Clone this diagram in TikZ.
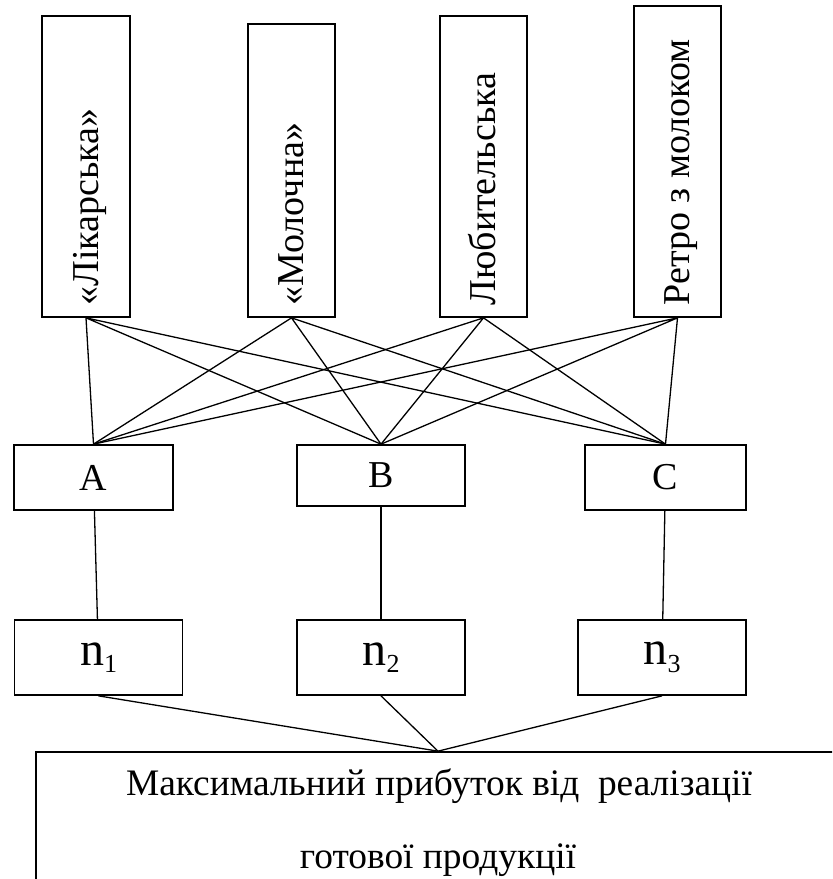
\documentclass[tikz,border=0pt]{standalone}
\usepackage{fontspec}
\setmainfont{Liberation Serif}
\newcommand{\lowidx}[1]{\raisebox{-3.8pt}{\fontsize{13}{13}\selectfont #1}}

\begin{document}
\begin{tikzpicture}[x=0.5pt, y=-0.5pt, font=\fontsize{19}{22}\selectfont]
\tikzstyle{brand} = [draw, rectangle, line width=0.85pt, minimum width=43.5pt]
\tikzstyle{brandname} = [rotate=90, anchor=base west, inner sep=0pt]
\tikzstyle{block} = [draw, rectangle, line width=0.85pt]
\tikzstyle{nblock} = [draw, rectangle, line width=0.85pt, minimum width=84pt, minimum height=37.5pt, font=\fontsize{24}{28}\selectfont]
\tikzstyle{textline} = [anchor=base, inner sep=0pt, font=\fontsize{18.7}{22}\selectfont]
\tikzstyle{link} = [line width=0.65pt]

\clip (0,0) rectangle (832,879);

    % sorts of product on top
    \node [brand, minimum width=44pt, minimum height=150.5pt] (lik) at (86,166.5) {};
    \node [brand, minimum height=146.5pt] (mol) at (291.5,170.5) {};
    \node [brand, minimum height=150.5pt] (lub) at (483.5,166.5) {};
    \node [brand, minimum height=155.5pt] (ret) at (677.5,161.5) {};
    \node [brandname] (liktext) at ([xshift=6pt, yshift=6pt]lik.south) {«Лікарська»};
    \node [brandname] (moltext) at ([xshift=6pt, yshift=6pt]mol.south) {«Молочна»};
    \node [brandname] (lubtext) at ([xshift=6pt, yshift=6pt]lub.south) {Любительська};
    \node [brandname] (rettext) at ([xshift=6pt, yshift=6pt]ret.south) {Ретро з молоком};

    \node [block, minimum width=79.5pt, minimum height=32.5pt] (A) at (93.5,477.5) {A};
    \node [block, minimum width=84pt, minimum height=30.5pt] (B) at (381,475.5) {B};
    \node [block, minimum width=80.5pt, minimum height=32.5pt] (C) at (665.5,477.5) {C};

    \node [nblock] (n1) at (98.5,657.5) {n\lowidx{1}};
    \node [nblock] (n2) at (381,657.5) {n\lowidx{2}};
    \node [nblock] (n3) at (662,657.5) {n\lowidx{3}};

    \node [block, minimum width=402pt, minimum height=67pt] (profit) at (438,819) {};
    \node [textline] (profit1) at (439,795) {Максимальний прибуток від~ реалізації};
    \node [textline] (profit2) at (438,868) {готової продукції};

    % every sort goes to every block
    \draw [link] (lik.south) -- (A.north) (lik.south) -- (B.north) (lik.south) -- (C.north);
    \draw [link] (mol.south) -- (A.north) (mol.south) -- (B.north) (mol.south) -- (C.north);
    \draw [link] (lub.south) -- (A.north) (lub.south) -- (B.north) (lub.south) -- (C.north);
    \draw [link] (ret.south) -- (A.north) (ret.south) -- (B.north) (ret.south) -- (C.north);

    \draw [link] (A) -- (n1);
    \draw [link] (B) -- (n2);
    \draw [link] (C) -- (n3);

    \draw [link] (n1.south) -- (profit.north);
    \draw [link] (n2.south) -- (profit.north);
    \draw [link] (n3.south) -- (profit.north);

\end{tikzpicture}
\end{document}
